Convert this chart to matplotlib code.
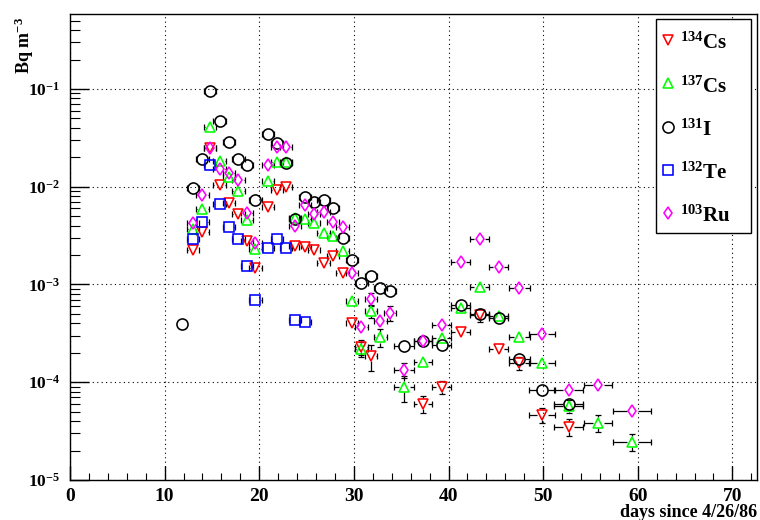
import numpy as np
import matplotlib
matplotlib.use('Agg')
import matplotlib.pyplot as plt
from matplotlib.collections import LineCollection
from matplotlib.lines import Line2D
from matplotlib.patches import Rectangle
from matplotlib.ticker import MultipleLocator, LogLocator, FuncFormatter, NullFormatter

plt.rcParams['font.family'] = 'Liberation Serif'
plt.rcParams['font.weight'] = 'bold'
plt.rcParams['mathtext.fontset'] = 'custom'
plt.rcParams['mathtext.rm'] = 'Liberation Serif:bold'
plt.rcParams['mathtext.it'] = 'Liberation Serif:italic:bold'
plt.rcParams['mathtext.bf'] = 'Liberation Serif:bold'

# sampling periods: mid day and half width (days)
sample_days = [11.8, 13.0, 14.0, 14.8, 15.8, 16.8, 17.8, 18.7, 19.6, 20.9, 21.9,
               22.8, 23.8, 24.8, 25.8, 26.8, 27.8, 28.8, 29.8, 30.8, 31.8, 32.8,
               33.8, 35.3, 37.3, 39.3, 41.3, 43.3, 45.3, 47.5, 49.9, 52.7, 55.8, 59.4]
sample_halfwidth = [0.5, 0.65, 0.65, 0.65, 0.65, 0.65, 0.65, 0.65, 0.65, 0.65, 0.65,
                    0.65, 0.65, 0.65, 0.65, 0.65, 0.65, 0.65, 0.65, 0.65, 0.65, 0.65,
                    0.65, 1.05, 0.95, 1.0, 1.0, 1.0, 1.0, 1.15, 1.4, 1.5, 1.5, 2.0]
halfwidth = dict(zip(sample_days, sample_halfwidth))

# Cs-134
cs134_days = [13.0, 14.0, 14.8, 15.8, 16.8, 17.8, 18.7, 19.6, 20.9, 21.9, 22.8, 23.8,
              24.8, 25.8, 26.8, 27.8, 28.8, 29.8, 30.8, 31.8, 37.3, 39.3, 41.3, 43.3,
              45.3, 47.5, 49.9, 52.7]
cs134_vals = [2.26e-3, 3.45e-3, 2.49e-2, 1.04e-2, 6.8e-3, 5.3e-3, 2.8e-3, 1.48e-3,
              6.2e-3, 9.3e-3, 9.9e-3, 2.48e-3, 2.42e-3, 2.26e-3, 1.66e-3, 1.96e-3,
              1.32e-3, 4.05e-4, 2.3e-4, 1.86e-4, 6.0e-5, 9.0e-5, 3.27e-4, 4.9e-4,
              2.2e-4, 1.58e-4, 4.65e-5, 3.5e-5]
cs134_rel = [0.1, 0.1, 0.1, 0.1, 0.1, 0.1, 0.1, 0.1, 0.1, 0.1, 0.1, 0.1,
             0.1, 0.1, 0.1, 0.1, 0.1, 0.12, 0.18, 0.3, 0.2, 0.15, 0.12, 0.15,
             0.12, 0.15, 0.18, 0.2]

# Cs-137
cs137_days = [13.0, 14.0, 14.8, 15.8, 16.8, 17.8, 18.7, 19.6, 20.9, 21.9, 22.8, 23.8,
              24.8, 25.8, 26.8, 27.8, 28.8, 29.8, 30.8, 31.8, 32.8, 35.3, 37.3, 39.3,
              41.3, 43.3, 45.3, 47.5, 49.9, 52.7, 55.8, 59.4]
cs137_vals = [3.7e-3, 5.9e-3, 4.1e-2, 1.84e-2, 1.26e-2, 9.1e-3, 4.6e-3, 2.3e-3,
              1.15e-2, 1.8e-2, 1.8e-2, 4.8e-3, 4.7e-3, 4.3e-3, 3.4e-3, 3.1e-3,
              2.2e-3, 6.8e-4, 2.2e-4, 5.4e-4, 2.9e-4, 9.0e-5, 1.62e-4, 2.84e-4,
              5.8e-4, 9.5e-4, 4.8e-4, 2.9e-4, 1.58e-4, 5.7e-5, 3.85e-5, 2.46e-5]
cs137_rel = [0.1, 0.1, 0.1, 0.1, 0.1, 0.1, 0.1, 0.1, 0.1, 0.1, 0.1, 0.1,
             0.1, 0.1, 0.1, 0.1, 0.1, 0.12, 0.18, 0.15, 0.2, 0.3, 0.12, 0.1,
             0.1, 0.1, 0.1, 0.1, 0.12, 0.15, 0.2, 0.2]

# I-131
i131_days = [11.8, 13.0, 14.0, 14.8, 15.8, 16.8, 17.8, 18.7, 19.6, 20.9, 21.9, 22.8,
             23.8, 24.8, 25.8, 26.8, 27.8, 28.8, 29.8, 30.8, 31.8, 32.8, 33.8, 35.3,
             37.3, 39.3, 41.3, 43.3, 45.3, 47.5, 49.9, 52.7]
i131_vals = [3.9e-4, 9.7e-3, 1.92e-2, 9.5e-2, 4.7e-2, 2.9e-2, 1.92e-2, 1.67e-2,
             7.3e-3, 3.5e-2, 2.8e-2, 1.75e-2, 4.7e-3, 7.9e-3, 7.0e-3, 7.3e-3,
             6.1e-3, 3.0e-3, 1.79e-3, 1.04e-3, 1.22e-3, 9.2e-4, 8.6e-4, 2.35e-4,
             2.65e-4, 2.41e-4, 6.2e-4, 5.0e-4, 4.55e-4, 1.73e-4, 8.4e-5, 6.0e-5]
i131_rel = [0.1] * 32

# Te-132
te132_days = [13.0, 14.0, 14.8, 15.8, 16.8, 17.8, 18.7, 19.6, 20.9, 21.9, 22.8, 23.8, 24.8]
te132_vals = [2.9e-3, 4.4e-3, 1.67e-2, 6.7e-3, 3.9e-3, 2.9e-3, 1.55e-3, 7.0e-4,
              2.37e-3, 2.9e-3, 2.37e-3, 4.35e-4, 4.15e-4]
te132_rel = [0.1] * 13

# Ru-103
ru103_days = [13.0, 14.0, 14.8, 15.8, 16.8, 17.8, 18.7, 19.6, 20.9, 21.9, 22.8, 23.8,
              24.8, 25.8, 26.8, 27.8, 28.8, 29.8, 30.8, 31.8, 32.8, 33.8, 35.3, 37.3,
              39.3, 41.3, 43.3, 45.3, 47.5, 49.9, 52.7, 55.8, 59.4]
ru103_vals = [4.3e-3, 8.2e-3, 2.5e-2, 1.52e-2, 1.38e-2, 1.17e-2, 5.4e-3, 2.66e-3,
              1.67e-2, 2.55e-2, 2.55e-2, 4.0e-3, 6.5e-3, 5.3e-3, 5.5e-3, 4.4e-3,
              3.9e-3, 1.32e-3, 3.7e-4, 7.1e-4, 4.25e-4, 5.1e-4, 1.34e-4, 2.65e-4,
              3.86e-4, 1.7e-3, 2.9e-3, 1.51e-3, 9.2e-4, 3.13e-4, 8.4e-5, 9.4e-5, 5.1e-5]
ru103_rel = [0.1, 0.1, 0.1, 0.1, 0.1, 0.1, 0.1, 0.1, 0.1, 0.1, 0.1, 0.1,
             0.1, 0.1, 0.1, 0.1, 0.1, 0.1, 0.1, 0.15, 0.12, 0.17, 0.18, 0.1,
             0.1, 0.1, 0.1, 0.1, 0.1, 0.1, 0.1, 0.1, 0.1]

labels = [r'$^{134}$Cs', r'$^{137}$Cs', r'$^{131}$I', r'$^{132}$Te', r'$^{103}$Ru']
styles = [
    dict(marker='v', ms=7.8, mfc='none', mec='#ff0000', mew=1.15),
    dict(marker='^', ms=7.8, mfc='none', mec='#00ff00', mew=1.15),
    dict(marker='o', ms=8.0, mfc='none', mec='black', mew=1.15),
    dict(marker='s', ms=7.3, mfc='none', mec='#0000ff', mew=1.15),
    dict(marker='d', ms=6.6, mfc='none', mec='#ff00ff', mew=1.15),
]

W, H = 760, 520
L, B, AW, AH = 70, 40, 687, 466
XMIN, XMAX = 0.0, 72.6
YMIN, YMAX = 1e-5, 0.585

fig = plt.figure(figsize=(W / 100, H / 100), dpi=100)
ax = fig.add_axes([L / W, B / H, AW / W, AH / H])
ax.set_xlim(XMIN, XMAX)
ax.set_yscale('log')
ax.set_ylim(YMIN, YMAX)

px_day = AW / (XMAX - XMIN)
px_dec = AH / (np.log10(YMAX) - np.log10(YMIN))
GAP = 5.5   # marker half size, px
CAP = 3.0   # end line half length, px


def draw_series(days, vals, rel, style):
    x = np.array(days)
    y = np.array(vals)
    dy = y * np.array(rel)
    dx = np.array([halfwidth[d] for d in days])
    gx, cx = GAP / px_day, CAP / px_day
    gy, cy = 10 ** (GAP / px_dec), 10 ** (CAP / px_dec)
    segs = []
    for xi, yi, dxi, dyi in zip(x, y, dx, dy):
        # horizontal bars only outside the marker, with end lines
        if dxi > gx:
            segs += [[(xi - dxi, yi), (xi - gx, yi)], [(xi + gx, yi), (xi + dxi, yi)],
                     [(xi - dxi, yi / cy), (xi - dxi, yi * cy)],
                     [(xi + dxi, yi / cy), (xi + dxi, yi * cy)]]
        hi, lo = yi + dyi, yi - dyi
        if hi > yi * gy:
            segs += [[(xi, yi * gy), (xi, hi)], [(xi - cx, hi), (xi + cx, hi)]]
        if 0 < lo < yi / gy:
            segs += [[(xi, yi / gy), (xi, lo)], [(xi - cx, lo), (xi + cx, lo)]]
    ax.add_collection(LineCollection(segs, colors='black', linewidths=0.9, zorder=3))
    ax.plot(x, y, ls='none', zorder=4, **style)


series = [
    (cs134_days, cs134_vals, cs134_rel),
    (cs137_days, cs137_vals, cs137_rel),
    (i131_days, i131_vals, i131_rel),
    (te132_days, te132_vals, te132_rel),
    (ru103_days, ru103_vals, ru103_rel),
]
for (d, v, r), st in zip(series, styles):
    draw_series(d, v, r, st)

# axes, ticks, grid
ax.xaxis.set_major_locator(MultipleLocator(10))
ax.xaxis.set_minor_locator(MultipleLocator(2))
ax.yaxis.set_major_locator(LogLocator(base=10, numticks=12))
ax.yaxis.set_minor_locator(LogLocator(base=10, subs=np.arange(2, 10), numticks=12))
ax.yaxis.set_minor_formatter(NullFormatter())
ax.yaxis.set_major_formatter(FuncFormatter(lambda v, p: r'$10^{%d}$' % round(np.log10(v))))
ax.tick_params(axis='both', which='both', direction='in', top=False, right=False, color='black')
ax.tick_params(axis='x', which='major', length=10, width=1.0, pad=6, labelsize=14)
ax.tick_params(axis='x', which='minor', length=5, width=0.8)
ax.tick_params(axis='y', which='major', length=13.5, width=1.0, pad=7, labelsize=12.5)
ax.tick_params(axis='y', which='minor', length=7, width=0.8)
ax.grid(True, which='major', color='black', linestyle=(0, (1, 3)), linewidth=0.8)
ax.set_axisbelow(True)
for sp in ax.spines.values():
    sp.set_linewidth(1.0)

fig.text(757 / W, 1 - 517 / H, 'days since 4/26/86', ha='right', va='baseline',
         fontsize=13, fontweight='bold')
fig.text(24 / W, 1 - 17 / H, r'$\mathrm{Bq\ m^{-3}}$', rotation=90, ha='center',
         va='top', fontsize=13)

# legend box
box_top, box_bot = 19, 233
fig.add_artist(Rectangle((656 / W, 1 - box_bot / H), 95 / W, (box_bot - box_top) / H,
                         transform=fig.transFigure, facecolor='white',
                         edgecolor='black', linewidth=1.0, zorder=5))
for i, (lab, st) in enumerate(zip(labels, styles)):
    yc = 40 + 43.3 * i
    fig.add_artist(Line2D([668 / W], [1 - yc / H], transform=fig.transFigure,
                          ls='none', zorder=6, **st))
    fig.text(680 / W, 1 - (yc + 9) / H, lab, ha='left', va='baseline',
             fontsize=15, fontweight='bold', zorder=6)

fig.savefig('out.png', dpi=100)
